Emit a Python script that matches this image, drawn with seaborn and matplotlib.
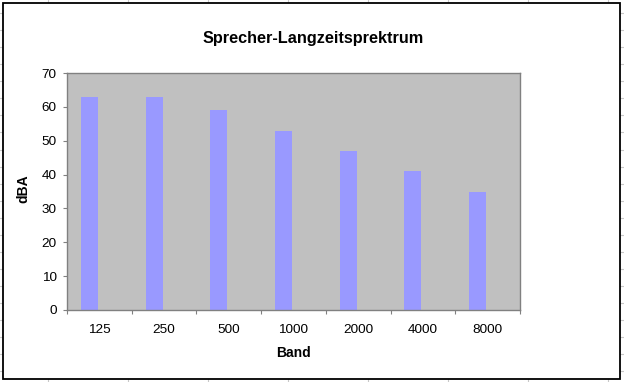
import matplotlib
matplotlib.use("Agg")
import matplotlib.pyplot as plt
import seaborn as sns
import pandas as pd
import numpy as np
from matplotlib.patches import Rectangle
from matplotlib.lines import Line2D

# ---- data ----
bands = ["125", "250", "500", "1000", "2000", "4000", "8000"]
levels = [63, 63, 59, 53, 47, 41, 35]
title = "Sprecher-Langzeitsprektrum"
xlabel = "Band"
ylabel = "dBA"
yticks = [0, 10, 20, 30, 40, 50, 60, 70]

sns.set_theme(style="white")
plt.rcParams['font.family'] = ['Liberation Sans', 'DejaVu Sans']

W, H = 624, 382
fig = plt.figure(figsize=(W / 100, H / 100), dpi=100)
fig.patch.set_facecolor("white")

# spreadsheet grid behind the chart object
for x in np.arange(48, W, 80):
    fig.add_artist(Line2D([x / W, x / W], [0, 1], color="#c8c8c8", lw=0.8, zorder=-3))
for y in np.arange(13, H, 17.07):
    fig.add_artist(Line2D([0, 1], [1 - y / H, 1 - y / H], color="#c8c8c8", lw=0.8, zorder=-3))
fig.add_artist(Rectangle((3 / W, 1 - 379 / H), 617 / W, 376 / H, transform=fig.transFigure,
                         facecolor="white", edgecolor="black", lw=1.3, zorder=-2))

L, R, T, B = 67, 520, 73, 310
ax = fig.add_axes([L / W, 1 - B / H, (R - L) / W, (B - T) / H])
ax.set_facecolor("#C0C0C0")

df = pd.DataFrame({
    "Band": bands * 2,
    "dBA": levels + [np.nan] * len(bands),
    "Reihe": ["Reihe1"] * len(bands) + ["Reihe2"] * len(bands),
})
sns.barplot(data=df, x="Band", y="dBA", hue="Reihe", hue_order=["Reihe1", "Reihe2"],
            order=bands, palette=["#9999FF", "#9999FF"], width=0.62, gap=0.15,
            dodge=True, legend=False, errorbar=None, linewidth=0, saturation=1, ax=ax)

ax.set_xlim(-0.5, len(bands) - 0.5)
ax.set_ylim(0, 70)
ax.set_yticks(yticks)
ax.set_xlabel("")
ax.set_ylabel("")
for s in ax.spines.values():
    s.set_color("#808080")
    s.set_linewidth(1.0)
    s.set_visible(True)

ax.tick_params(axis="y", which="major", direction="out", length=3, width=0.8,
               color="#808080", labelsize=9.7, pad=4.5, left=True)
ax.tick_params(axis="x", which="major", length=0, labelsize=9.7, pad=10)
ax.set_xticks(np.arange(-0.5, len(bands), 1.0), minor=True)
ax.tick_params(axis="x", which="minor", direction="out", length=3, width=0.8,
               color="#808080", bottom=True)
for lab in ax.get_xticklabels() + ax.get_yticklabels():
    lab.set_color("black")

fig.text(313 / W, 1 - 43 / H, title, ha="center", va="baseline",
         fontsize=11.7, fontweight="bold", color="black")
fig.text(293.5 / W, 1 - 357 / H, xlabel, ha="center", va="baseline",
         fontsize=10, fontweight="bold", color="black")
fig.text(27 / W, 1 - 189 / H, ylabel, ha="center", va="baseline", rotation=90,
         rotation_mode="anchor", fontsize=10, fontweight="bold", color="black")

fig.savefig("out.png", dpi=100)
